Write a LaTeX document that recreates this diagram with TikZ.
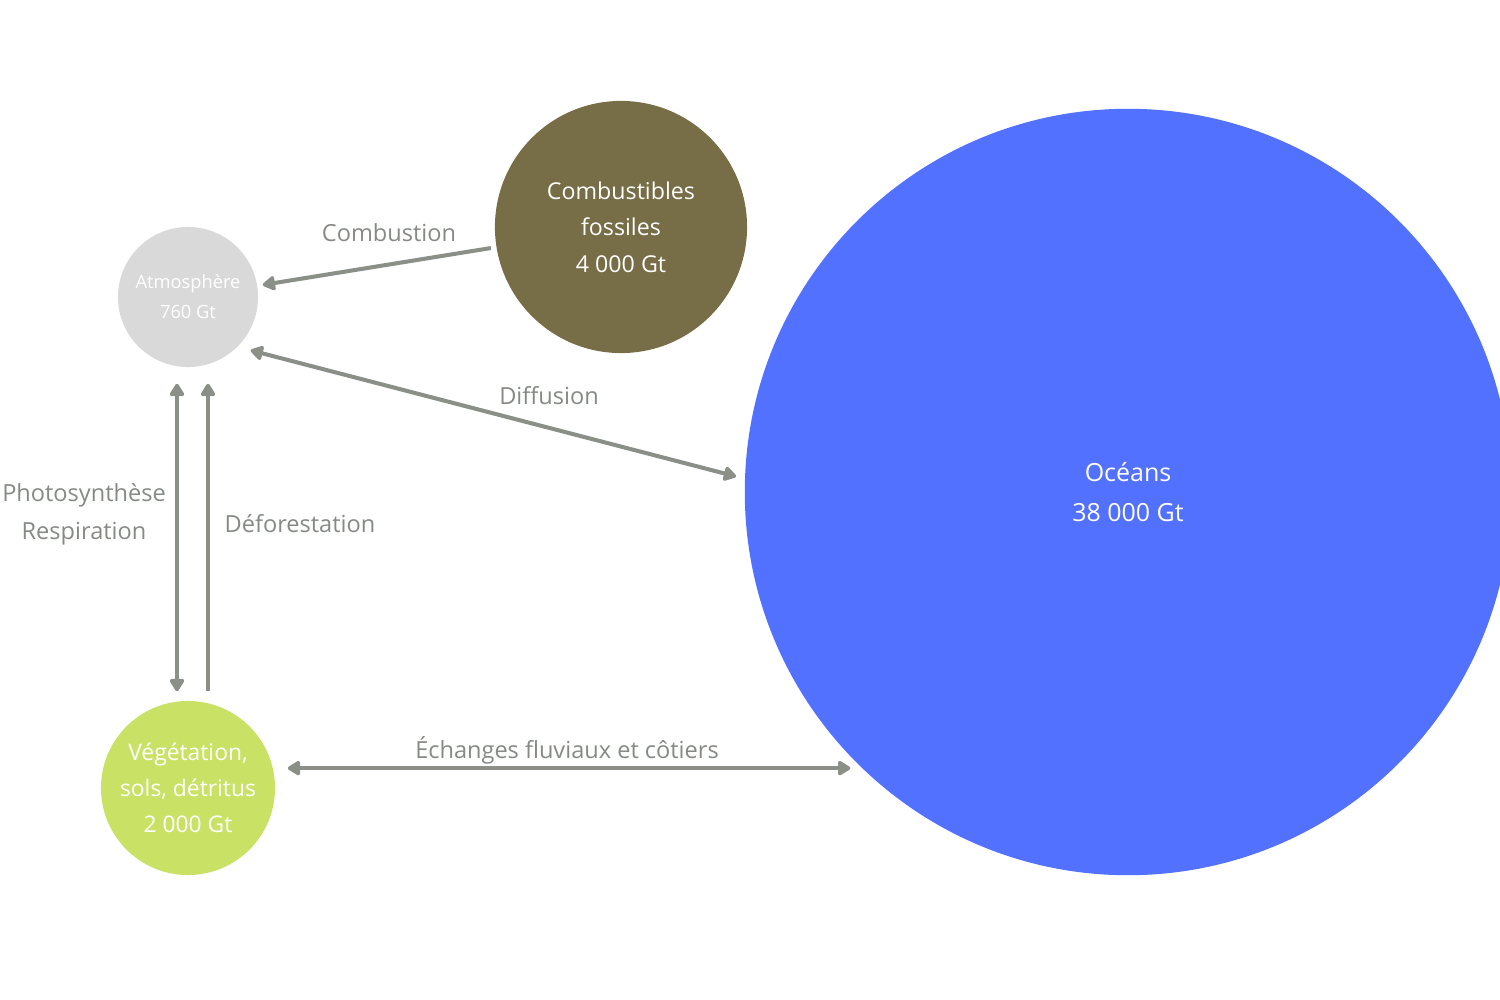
\documentclass[tikz,border=0pt]{standalone}
\usepackage{fontspec}
\setmainfont{Open Sans}
\usetikzlibrary{arrows.meta}

\definecolor{atmo}{HTML}{D9D9D9}
\definecolor{fossile}{HTML}{776D46}
\definecolor{ocean}{HTML}{5271FF}
\definecolor{vegetal}{HTML}{C9E265}
\definecolor{fleche}{HTML}{8A9088}
\definecolor{gristexte}{HTML}{858A85}

\begin{document}
\begin{tikzpicture}[x=0.01cm,y=-0.01cm,
    reservoir/.style={circle, inner sep=0pt, text=white, align=center},
    etiquette/.style={text=gristexte, align=center, inner sep=0pt, font=\fontsize{6.7}{10.8}\selectfont},
    flux/.style={line width=1.15pt, draw=fleche, >={Triangle[length=4pt,width=4.6pt,round]}}]

    % Cadre de la figure (l'océan dépasse à droite)
    \clip (0,0) rectangle (1500,1000);

    % Réservoirs de carbone
    \node[reservoir, fill=atmo, minimum size=1.40cm, font=\fontsize{5.2}{8.5}\selectfont] (atm) at (188,297) {Atmosphère\\760 Gt};
    \node[reservoir, fill=fossile, minimum size=2.52cm, font=\fontsize{6.6}{10.4}\selectfont] (fos) at (621,227) {Combustibles\\fossiles\\4 000 Gt};
    \node[reservoir, fill=ocean, minimum size=7.66cm, font=\fontsize{7.1}{11.4}\selectfont] (oce) at (1128,492) {Océans\\38 000 Gt};
    \node[reservoir, fill=vegetal, minimum size=1.74cm, font=\fontsize{6.5}{10.2}\selectfont] (veg) at (188,788) {Végétation,\\sols, détritus\\2 000 Gt};

    % Flux
    \draw[flux, ->, shorten <=0.05cm, shorten >=0.05cm] (fos) -- (atm);
    \draw[flux, <->, shorten <=0.13cm, shorten >=0.085cm] (atm.-45) -- (oce.178);
    \draw[flux, <->] ([xshift=-0.11cm,yshift=-0.16cm]atm.south) -- ([xshift=-0.11cm,yshift=0.09cm]veg.north);
    \draw[flux, ->] ([xshift=0.2cm,yshift=0.09cm]veg.north) -- ([xshift=0.2cm,yshift=-0.16cm]atm.south);
    \coordinate (bordoce) at (oce.226.3);
    \draw[flux, <->] ([xshift=0.12cm]veg.east |- bordoce) -- ([xshift=-0.11cm]bordoce);

    % Etiquettes des flux
    \node[etiquette] (lcomb) at (389,233) {Combustion};
    \node[etiquette] (ldiff) at (549,396) {Diffusion};
    \node[etiquette] (lphoto) at (84,514) {Photosynthèse\\Respiration};
    \node[etiquette] (ldefo) at (300,524) {Déforestation};
    \node[etiquette] (lech) at (567,750) {Échanges fluviaux et côtiers};

\end{tikzpicture}
\end{document}
